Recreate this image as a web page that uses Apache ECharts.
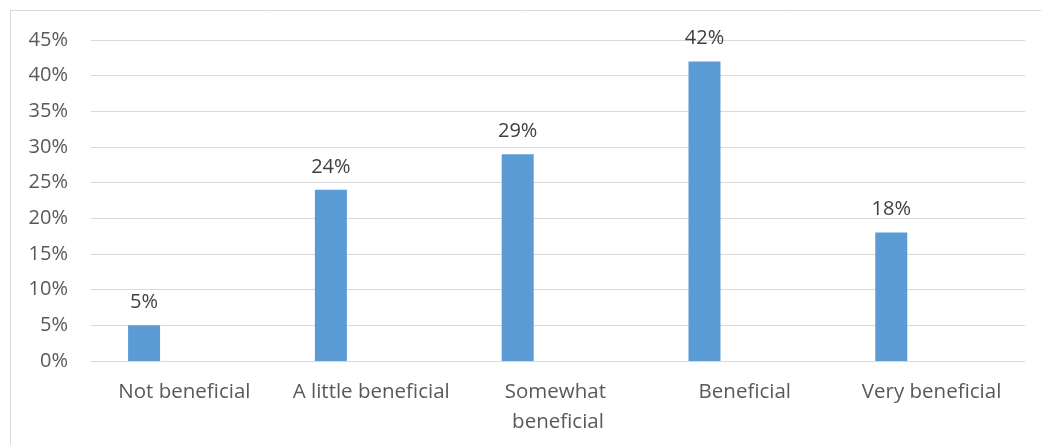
<!DOCTYPE html>
<html>
<head>
<meta charset="utf-8">
<script src="https://cdn.jsdelivr.net/npm/echarts@6/dist/echarts.min.js"></script>
<style>
  html, body { margin: 0; padding: 0; background: #fff; }
  #chart { width: 1041px; height: 445px; }
</style>
</head>
<body>
<div id="chart"></div>
<script>
// Survey responses: how beneficial respondents found it
const categories = ['Not beneficial', 'A little beneficial', 'Somewhat beneficial', 'Beneficial', 'Very beneficial'];
const shares = [0.05, 0.24, 0.29, 0.42, 0.18];
// Empty companion series (keeps the clustered-bar spacing)
const companion = [null, null, null, null, null];
const yMin = 0;
const yMax = 0.45;
const yStep = 0.05;

const pct = v => Math.round(v * 100) + '%';
const font = '"Open Sans", "Liberation Sans", sans-serif';

const chart = echarts.init(document.getElementById('chart'), null, { renderer: 'canvas' });
chart.setOption({
  animation: false,
  backgroundColor: '#ffffff',
  textStyle: { fontFamily: font },
  graphic: [{
    type: 'rect',
    shape: { x: 10.5, y: 10.5, width: 1100, height: 600 },
    style: { fill: 'none', stroke: '#D9D9D9', lineWidth: 1 },
    silent: true,
    z: -1
  }],
  grid: { left: 91, right: 16, top: 40, bottom: 84, containLabel: false },
  xAxis: {
    type: 'category',
    data: categories,
    axisLine: { show: true, lineStyle: { color: '#D9D9D9', width: 1 } },
    axisTick: { show: false },
    axisLabel: {
      interval: 0,
      margin: 16,
      color: '#595959',
      fontFamily: font,
      fontSize: 20.5,
      lineHeight: 30,
      width: 178,
      overflow: 'break'
    }
  },
  yAxis: {
    type: 'value',
    min: yMin,
    max: yMax,
    interval: yStep,
    axisLine: { show: false },
    axisTick: { show: false },
    splitLine: { lineStyle: { color: '#D9D9D9', width: 1 } },
    axisLabel: {
      margin: 23,
      color: '#595959',
      fontFamily: font,
      fontSize: 20,
      formatter: v => pct(v)
    }
  },
  series: [
    {
      type: 'bar',
      data: shares,
      barWidth: 32,
      barGap: '152%',
      itemStyle: { color: '#5B9BD5' },
      label: {
        show: true,
        position: 'top',
        distance: 13,
        color: '#404040',
        fontFamily: font,
        fontSize: 20,
        formatter: p => pct(p.value)
      }
    },
    {
      type: 'bar',
      data: companion,
      barWidth: 32,
      itemStyle: { color: '#ED7D31' }
    }
  ]
});
</script>
</body>
</html>
